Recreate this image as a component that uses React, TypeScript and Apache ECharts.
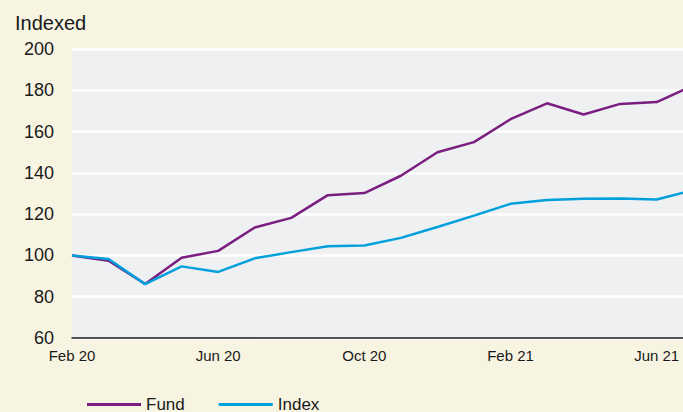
import React, { useEffect, useRef } from "react";
import * as echarts from "echarts";

const months = [
  "Feb 20", "Mar 20", "Apr 20", "May 20", "Jun 20", "Jul 20", "Aug 20", "Sep 20", "Oct 20",
  "Nov 20", "Dec 20", "Jan 21", "Feb 21", "Mar 21", "Apr 21", "May 21", "Jun 21", "Jul 21",
];
const fundValues = [100, 97.4, 86.2, 98.9, 102.2, 113.5, 118.2, 129.2, 130.2, 138.6, 150.0, 154.9, 166.0, 173.7, 168.3, 173.4, 174.3, 182.3];
const indexValues = [100, 98.3, 86.1, 94.7, 92.0, 98.6, 101.6, 104.4, 104.8, 108.5, 113.8, 119.3, 125.0, 126.8, 127.4, 127.6, 127.1, 131.6];
const seriesNames = ["Fund", "Index"];
const seriesColors = ["#7a1e80", "#00a0dc"];
const yTicks = { min: 60, max: 200, interval: 20 };

const FONT = "'Liberation Sans', Arial, Helvetica, sans-serif";
const TEXT = "#1a1a1a";

export default function App() {
  const ref = useRef<HTMLDivElement>(null);
  useEffect(() => {
    document.body.style.margin = "0";
    const chart = echarts.init(ref.current!, undefined, { renderer: "svg" });
    const toPairs = (arr: number[]) => arr.map((v, i) => [i, v]);
    chart.setOption({
      animation: false,
      backgroundColor: "#f8f4e2",
      textStyle: { fontFamily: FONT, color: TEXT },
      title: {
        text: "Indexed",
        left: 15,
        top: 13,
        padding: 0,
        textStyle: { fontSize: 20, fontWeight: "normal", color: TEXT, fontFamily: FONT },
      },
      legend: {
        data: seriesNames.map((n, i) => ({
          name: n,
          icon: "rect",
          itemStyle: { color: seriesColors[i], borderWidth: 0 },
        })),
        left: 87,
        top: 396,
        padding: 0,
        itemWidth: 54,
        itemHeight: 3,
        itemGap: 34,
        textStyle: { fontSize: 17, color: TEXT, fontFamily: FONT },
      },
      grid: {
        left: 72,
        right: 0,
        top: 49,
        bottom: 74,
        show: true,
        backgroundColor: "#eff0f2",
        borderWidth: 0,
        containLabel: false,
      },
      xAxis: {
        type: "value",
        min: 0,
        max: 16.72,
        interval: 4,
        axisLine: { show: true, lineStyle: { color: "#1a1a1a", width: 1.5 } },
        axisTick: { show: false },
        splitLine: { show: false },
        axisLabel: {
          fontSize: 15,
          color: TEXT,
          fontFamily: FONT,
          margin: 10,
          showMaxLabel: false,
          formatter: (v: number) => (Number.isInteger(v) && months[v] ? months[v] : ""),
        },
      },
      yAxis: {
        type: "value",
        min: yTicks.min,
        max: yTicks.max,
        interval: yTicks.interval,
        axisLine: { show: false },
        axisTick: { show: false },
        splitLine: { show: true, lineStyle: { color: "#ffffff", width: 2.5 } },
        axisLabel: { fontSize: 18, color: TEXT, fontFamily: FONT, margin: 18 },
      },
      series: [
        {
          name: seriesNames[0],
          type: "line",
          data: toPairs(fundValues),
          showSymbol: false,
          symbol: "none",
          clip: true,
          color: seriesColors[0],
          lineStyle: { color: seriesColors[0], width: 2.5 },
        },
        {
          name: seriesNames[1],
          type: "line",
          data: toPairs(indexValues),
          showSymbol: false,
          symbol: "none",
          clip: true,
          color: seriesColors[1],
          lineStyle: { color: seriesColors[1], width: 2.5 },
        },
      ],
    });
    return () => chart.dispose();
  }, []);
  return (
    <div
      ref={ref}
      style={{ position: "fixed", left: 0, top: 0, width: 683, height: 412 }}
    />
  );
}
